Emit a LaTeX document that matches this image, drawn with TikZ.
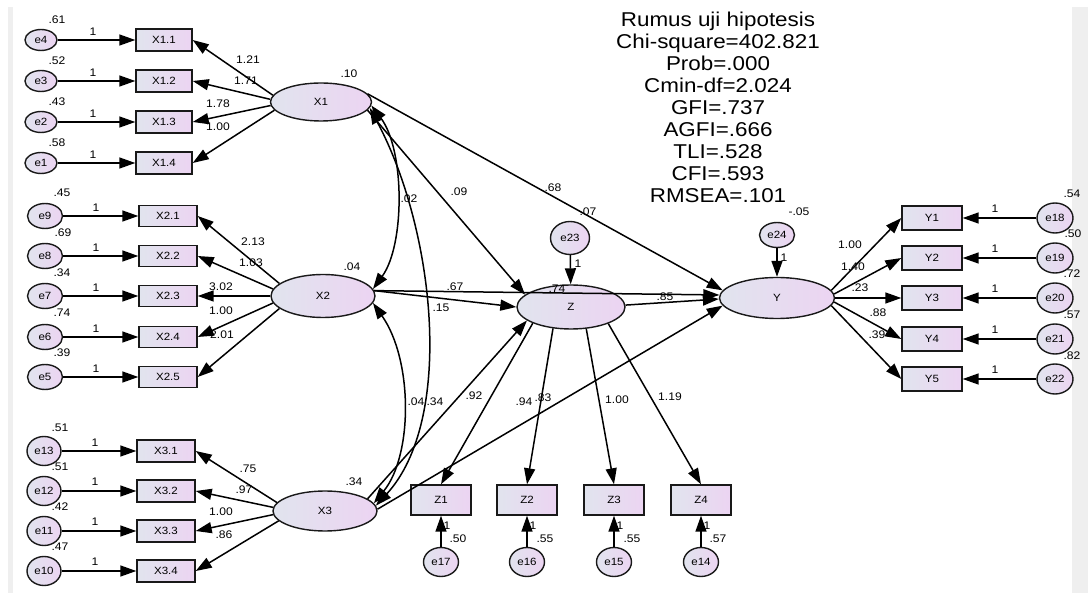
\documentclass[tikz,border=0pt]{standalone}
\usepackage{fontspec}
\setmainfont[FakeStretch=1.1]{Liberation Sans}
\newfontfamily\bigfont[FakeStretch=1.12]{Liberation Sans}
\usetikzlibrary{arrows.meta,shapes.geometric}
\definecolor{shL}{RGB}{225,228,238}
\definecolor{shR}{RGB}{236,212,242}
\definecolor{stripe}{RGB}{239,239,239}
\begin{document}
\begin{tikzpicture}[x=1pt,y=-1pt,
 base/.style={draw=black!90, line width=1.4pt, left color=shL, right color=shR, inner sep=0pt, font=\fontsize{10.5}{10.5}\selectfont},
 lat/.style={base, ellipse},
 errA/.style={base, ellipse, minimum width=32pt, minimum height=21pt},
 errB/.style={base, ellipse, minimum width=35pt, minimum height=25pt},
 errC/.style={base, ellipse, minimum width=34pt, minimum height=29pt},
 errD/.style={base, ellipse, minimum width=35pt, minimum height=29pt},
 errE/.style={base, ellipse, minimum width=36pt, minimum height=30pt},
 obsA/.style={base, rectangle, minimum width=56pt, minimum height=22pt},
 obsB/.style={base, rectangle, minimum width=58pt, minimum height=21pt},
 obsZ/.style={base, rectangle, minimum width=60pt, minimum height=30pt},
 obsY/.style={base, rectangle, minimum width=60pt, minimum height=24pt},
 lab/.style={inner sep=0pt, font=\fontsize{11}{11}\selectfont},
 arr/.style={line width=1.5pt, -{Triangle[length=16pt,width=11pt]}},
 cov/.style={line width=1.5pt, {Triangle[length=16pt,width=11pt]}-{Triangle[length=16pt,width=11pt]}},
]
\useasboundingbox (0,0) rectangle (1088,593);
\fill[stripe] (8,7) rectangle (13,593);
\fill[stripe] (1072,7) rectangle (1088,593);

% latent variables
\node[lat, minimum width=101pt, minimum height=38pt] (X1) at (321,102) {X1};
\node[lat, minimum width=104pt, minimum height=43pt] (X2) at (323,296) {X2};
\node[lat, minimum width=104pt, minimum height=40pt] (X3) at (325,511) {X3};
\node[lat, minimum width=108pt, minimum height=44pt] (Z) at (571,307) {Z};
\node[lat, minimum width=115pt, minimum height=41pt] (Y) at (777,298) {Y};

% X1 indicators
\node[obsA] (X11) at (164,40) {X1.1};
\node[obsA] (X12) at (164,81) {X1.2};
\node[obsA] (X13) at (164,122) {X1.3};
\node[obsA] (X14) at (164,163) {X1.4};
\node[errA] (e4) at (41,40) {e4};
\node[errA] (e3) at (41,81) {e3};
\node[errA] (e2) at (41,122) {e2};
\node[errA] (e1) at (41,163) {e1};

% X2 indicators
\node[obsB] (X21) at (168,216) {X2.1};
\node[obsB] (X22) at (168,256) {X2.2};
\node[obsB] (X23) at (168,296) {X2.3};
\node[obsB] (X24) at (168,337) {X2.4};
\node[obsB] (X25) at (168,377) {X2.5};
\node[errB] (e9) at (45,216) {e9};
\node[errB] (e8) at (45,256) {e8};
\node[errB] (e7) at (45,296) {e7};
\node[errB] (e6) at (45,337) {e6};
\node[errB] (e5) at (45,377) {e5};

% X3 indicators
\node[obsB, minimum height=22pt] (X31) at (166,451) {X3.1};
\node[obsB, minimum height=22pt] (X32) at (166,491) {X3.2};
\node[obsB, minimum height=22pt] (X33) at (166,531) {X3.3};
\node[obsB, minimum height=22pt] (X34) at (166,571) {X3.4};
\node[errC] (e13) at (44,451) {e13};
\node[errC] (e12) at (44,491) {e12};
\node[errC] (e11) at (44,531) {e11};
\node[errC] (e10) at (44,571) {e10};

% Z indicators
\node[obsZ] (Z1) at (441,500) {Z1};
\node[obsZ] (Z2) at (527,500) {Z2};
\node[obsZ] (Z3) at (614,500) {Z3};
\node[obsZ] (Z4) at (701,500) {Z4};
\node[errD] (e17) at (441,562) {e17};
\node[errD] (e16) at (527,562) {e16};
\node[errD] (e15) at (614,562) {e15};
\node[errD] (e14) at (701,562) {e14};
\node[base, ellipse, minimum width=39pt, minimum height=33pt] (e23) at (570,238) {e23};

% Y indicators
\node[obsY] (Y1) at (932,218) {Y1};
\node[obsY] (Y2) at (932,258) {Y2};
\node[obsY] (Y3) at (932,298) {Y3};
\node[obsY] (Y4) at (932,339) {Y4};
\node[obsY] (Y5) at (932,379) {Y5};
\node[errE] (e18) at (1055,218) {e18};
\node[errE] (e19) at (1055,258) {e19};
\node[errE] (e20) at (1055,298) {e20};
\node[errE] (e21) at (1055,339) {e21};
\node[errE] (e22) at (1055,379) {e22};
\node[base, ellipse, minimum width=35pt, minimum height=25pt] (e24) at (777,235) {e24};

% error arrows
\foreach \e/\v in {e4/X11,e3/X12,e2/X13,e1/X14,e9/X21,e8/X22,e7/X23,e6/X24,e5/X25,
  e13/X31,e12/X32,e11/X33,e10/X34,e17/Z1,e16/Z2,e15/Z3,e14/Z4,
  e18/Y1,e19/Y2,e20/Y3,e21/Y4,e22/Y5,e23/Z,e24/Y}
  \draw[arr] (\e) -- (\v);

% loadings
\draw[arr] (X1.172) -- (X11.east);
\draw[arr] (X1.177) -- (X12.east);
\draw[arr] (X1.184) -- (X13.east);
\draw[arr] (X1.190) -- (X14.east);
\draw[arr] (X2.164) -- (X21.east);
\draw[arr] (X2.172) -- (X22.east);
\draw[arr] (X2.180) -- (X23.east);
\draw[arr] (X2.188) -- (X24.east);
\draw[arr] (X2.196) -- (X25.east);
\draw[arr] (X3.170) -- (X31.east);
\draw[arr] (X3.176) -- (X32.east);
\draw[arr] (X3.184) -- (X33.east);
\draw[arr] (X3.192) -- (X34.east);
\draw[arr] (Z.-157) -- (Z1.north);
\draw[arr] (Z.-130) -- (Z2.north);
\draw[arr] (Z.-55) -- (Z3.north);
\draw[arr] (Z.-24) -- (Z4.north);
\draw[arr] (Y.8) -- (Y1.west);
\draw[arr] (Y.4) -- (Y2.west);
\draw[arr] (Y.0) -- (Y3.west);
\draw[arr] (Y.-4) -- (Y4.west);
\draw[arr] (Y.-8) -- (Y5.west);

% structural paths
\draw[arr] (X1.-10) -- (Z.165);
\draw[arr] (X1.10) -- (Y.172);
\draw[arr] (X2.6) -- (Z.180);
\draw[arr] (X2.6) -- (Y.177);
\draw[arr] (X3.16) -- (Z.197);
\draw[arr] (X3.2) -- (Y.188);
\draw[arr] (Z.2) -- (Y.181);

% covariances
\draw[cov] (X1.-4) .. controls (405,150) and (405,245) .. (X2.8);
\draw[cov] (X1.-7) .. controls (435,230) and (455,420) .. (X3.6);
\draw[cov] (X2.-8) .. controls (413,360) and (413,455) .. (X3.9);

% labels
\foreach \n/\x/\y/\t in {
  v4/57/20/.61, v3/57/61/.52, v2/57/102/.43, v1/57/143/.58,
  o4/93/32/1, o3/93/73/1, o2/93/114/1, o1/93/155/1,
  l11/248/60/1.21, l12/246/81/1.71, l13/218/104/1.78, l14/218/127/1.00,
  vX1/349/74/.10,
  v9/62/193/.45, v8/63/233/.69, v7/62/273/.34, v6/62/313/.74, v5/62/353/.39,
  o9/96/208/1, o8/96/248/1, o7/96/288/1, o6/96/329/1, o5/96/369/1,
  l21/253/242/2.13, l22/251/263/1.03, l23/221/287/3.02, l24/221/311/1.00, l25/222/335/2.01,
  vX2/352/267/.04,
  v13/60/428/.51, v12/60/467/.51, v11/60/507/.42, v10/60/547/.47,
  o13/95/443/1, o12/95/482/1, o11/95/522/1, o10/95/562/1,
  l31/248/469/.75, l32/244/490/.97, l33/221/512/1.00, l34/224/535/.86,
  vX3/354/482/.34,
  o23/578/264/1, vZ/557/289/.74,
  o17/447/526/1, o16/533/526/1, o15/620/526/1, o14/707/526/1,
  v17/458/539/.50, v16/545/539/.55, v15/632/539/.55, v14/718/539/.57,
  lz1/474/396/.92, lz2a/524/402/.94, lz2b/543/398/.83, lz3/617/400/1.00, lz4/670/397/1.19,
  c12/409/199/.02, p1z/459/192/.09, p1y/553/188/.68, p1yb/588/212/.07,
  p2y/455/287/.67, c13/441/308/.15, pzy/665/297/.85, c23/416/402/.04, p3z/435/402/.34,
  o24/784/258/1, vY/799/212/-.05,
  v18/1072/194/.54, v19/1073/234/.50, v20/1072/274/.72, v21/1072/315/.57, v22/1072/356/.82,
  o18/995/209/1, o19/995/249/1, o20/995/289/1, o21/995/330/1, o22/995/370/1,
  ly1/850/245/1.00, ly2/853/267/1.40, ly3/860/288/.23, ly4/878/313/.88, ly5/877/335/.39}
  \node[lab] (\n) at (\x,\y) {\t};

\node[align=center, inner sep=0pt, font=\bigfont\fontsize{20}{22}\selectfont] (fitidx) at (718,107)
 {Rumus uji hipotesis\\Chi-square=402.821\\Prob=.000\\Cmin-df=2.024\\GFI=.737\\AGFI=.666\\TLI=.528\\CFI=.593\\RMSEA=.101};
\end{tikzpicture}
\end{document}
